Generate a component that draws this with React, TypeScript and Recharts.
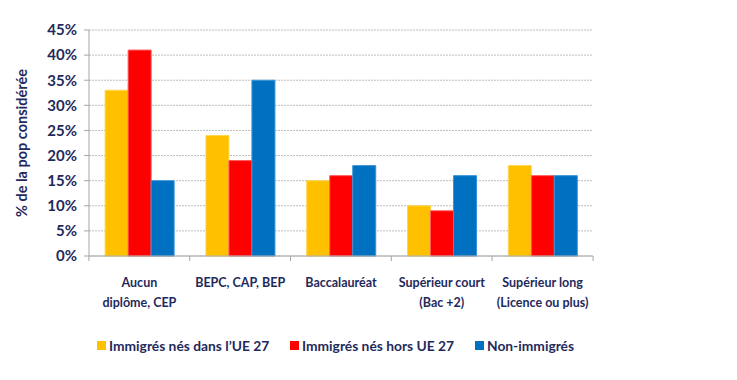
import { BarChart, Bar, XAxis, YAxis, CartesianGrid, Legend } from 'recharts';

const categories = [
  ['Aucun', 'diplôme, CEP'],
  ['BEPC, CAP, BEP'],
  ['Baccalauréat'],
  ['Supérieur court', '(Bac +2)'],
  ['Supérieur long', '(Licence ou plus)'],
];
const neUE = [33, 24, 15, 10, 18];
const horsUE = [41, 19, 16, 9, 16];
const nonImmigres = [15, 35, 18, 16, 16];
const yTicks = [0, 5, 10, 15, 20, 25, 30, 35, 40, 45];

const data = categories.map((c, i) => ({
  name: c.join(' '),
  lines: c,
  ue: neUE[i],
  hors: horsUE[i],
  non: nonImmigres[i],
}));

const TEXT = '#1F2A5C';
const FONT = 'Lato, sans-serif';

function CatTick(props: any) {
  const { x, y, payload, index } = props;
  const lines: string[] = data[payload.index ?? index]?.lines ?? [payload.value];
  const half = 50.5;
  return (
    <g>
      <line x1={x - half} y1={y - 8} x2={x - half} y2={y - 3} stroke="#A6A6A6" />
      {index === data.length - 1 && (
        <line x1={x + half} y1={y - 8} x2={x + half} y2={y - 3} stroke="#A6A6A6" />
      )}
      {lines.map((l, k) => (
        <text
          key={k}
          x={x}
          y={y + 23 + k * 19.5}
          textAnchor="middle"
          fill={TEXT}
          fontFamily={FONT}
          fontWeight="bold"
          fontSize={12.5}
        >
          {l}
        </text>
      ))}
    </g>
  );
}

function LegendContent() {
  const items = [
    { label: 'Immigrés nés dans l\u2019UE 27', color: '#FFC000', x: 97 },
    { label: 'Immigrés nés hors UE 27', color: '#FF0000', x: 290 },
    { label: 'Non-immigrés', color: '#0070C0', x: 475 },
  ];
  return (
    <div style={{ position: 'relative', height: 40, width: 737 }}>
      {items.map((it) => (
        <div
          key={it.label}
          style={{
            position: 'absolute',
            left: it.x,
            top: 11,
            display: 'flex',
            alignItems: 'center',
            fontFamily: FONT,
            fontWeight: 'bold',
            fontSize: 13.8,
            color: TEXT,
            whiteSpace: 'nowrap',
          }}
        >
          <span style={{ width: 9, height: 9, background: it.color, marginRight: 3, display: 'inline-block' }} />
          {it.label}
        </div>
      ))}
    </div>
  );
}

export default function App() {
  return (
    <div style={{ position: 'absolute', left: 0, top: 0, width: 737, height: 380, background: '#fff' }}>
      <BarChart
        width={737}
        height={380}
        data={data}
        margin={{ top: 30, right: 144, left: 0, bottom: 0 }}
        barCategoryGap="16%"
        barGap={0}
      >
        <CartesianGrid vertical={false} stroke="#BDBDBD" strokeDasharray="2 1" />
        <XAxis
          dataKey="name"
          tick={<CatTick />}
          tickLine={false}
          axisLine={{ stroke: '#A6A6A6' }}
          interval={0}
          height={70}
        />
        <YAxis
          domain={[0, 45]}
          ticks={yTicks}
          interval={0}
          tickFormatter={(v) => `${v}%`}
          width={89}
          axisLine={{ stroke: '#A6A6A6' }}
          tickLine={{ stroke: '#A6A6A6' }}
          tickSize={5}
          tickMargin={7}
          tick={{ fill: TEXT, fontFamily: FONT, fontWeight: 'bold', fontSize: 15 }}
          label={{
            value: '% de la pop considérée',
            angle: -90,
            position: 'insideLeft',
            offset: 22,
            style: { fill: TEXT, fontFamily: FONT, fontWeight: 'bold', fontSize: 14.5, textAnchor: 'middle' },
          }}
        />
        <Legend verticalAlign="bottom" height={54} content={<LegendContent />} />
        <Bar dataKey="ue" name="Immigrés nés dans l'UE 27" fill="#FFC000" stroke="#FFD54F" isAnimationActive={false} />
        <Bar dataKey="hors" name="Immigrés nés hors UE 27" fill="#FF0000" stroke="#FF5A5A" isAnimationActive={false} />
        <Bar dataKey="non" name="Non-immigrés" fill="#0070C0" stroke="#3A93D6" isAnimationActive={false} />
      </BarChart>
    </div>
  );
}
